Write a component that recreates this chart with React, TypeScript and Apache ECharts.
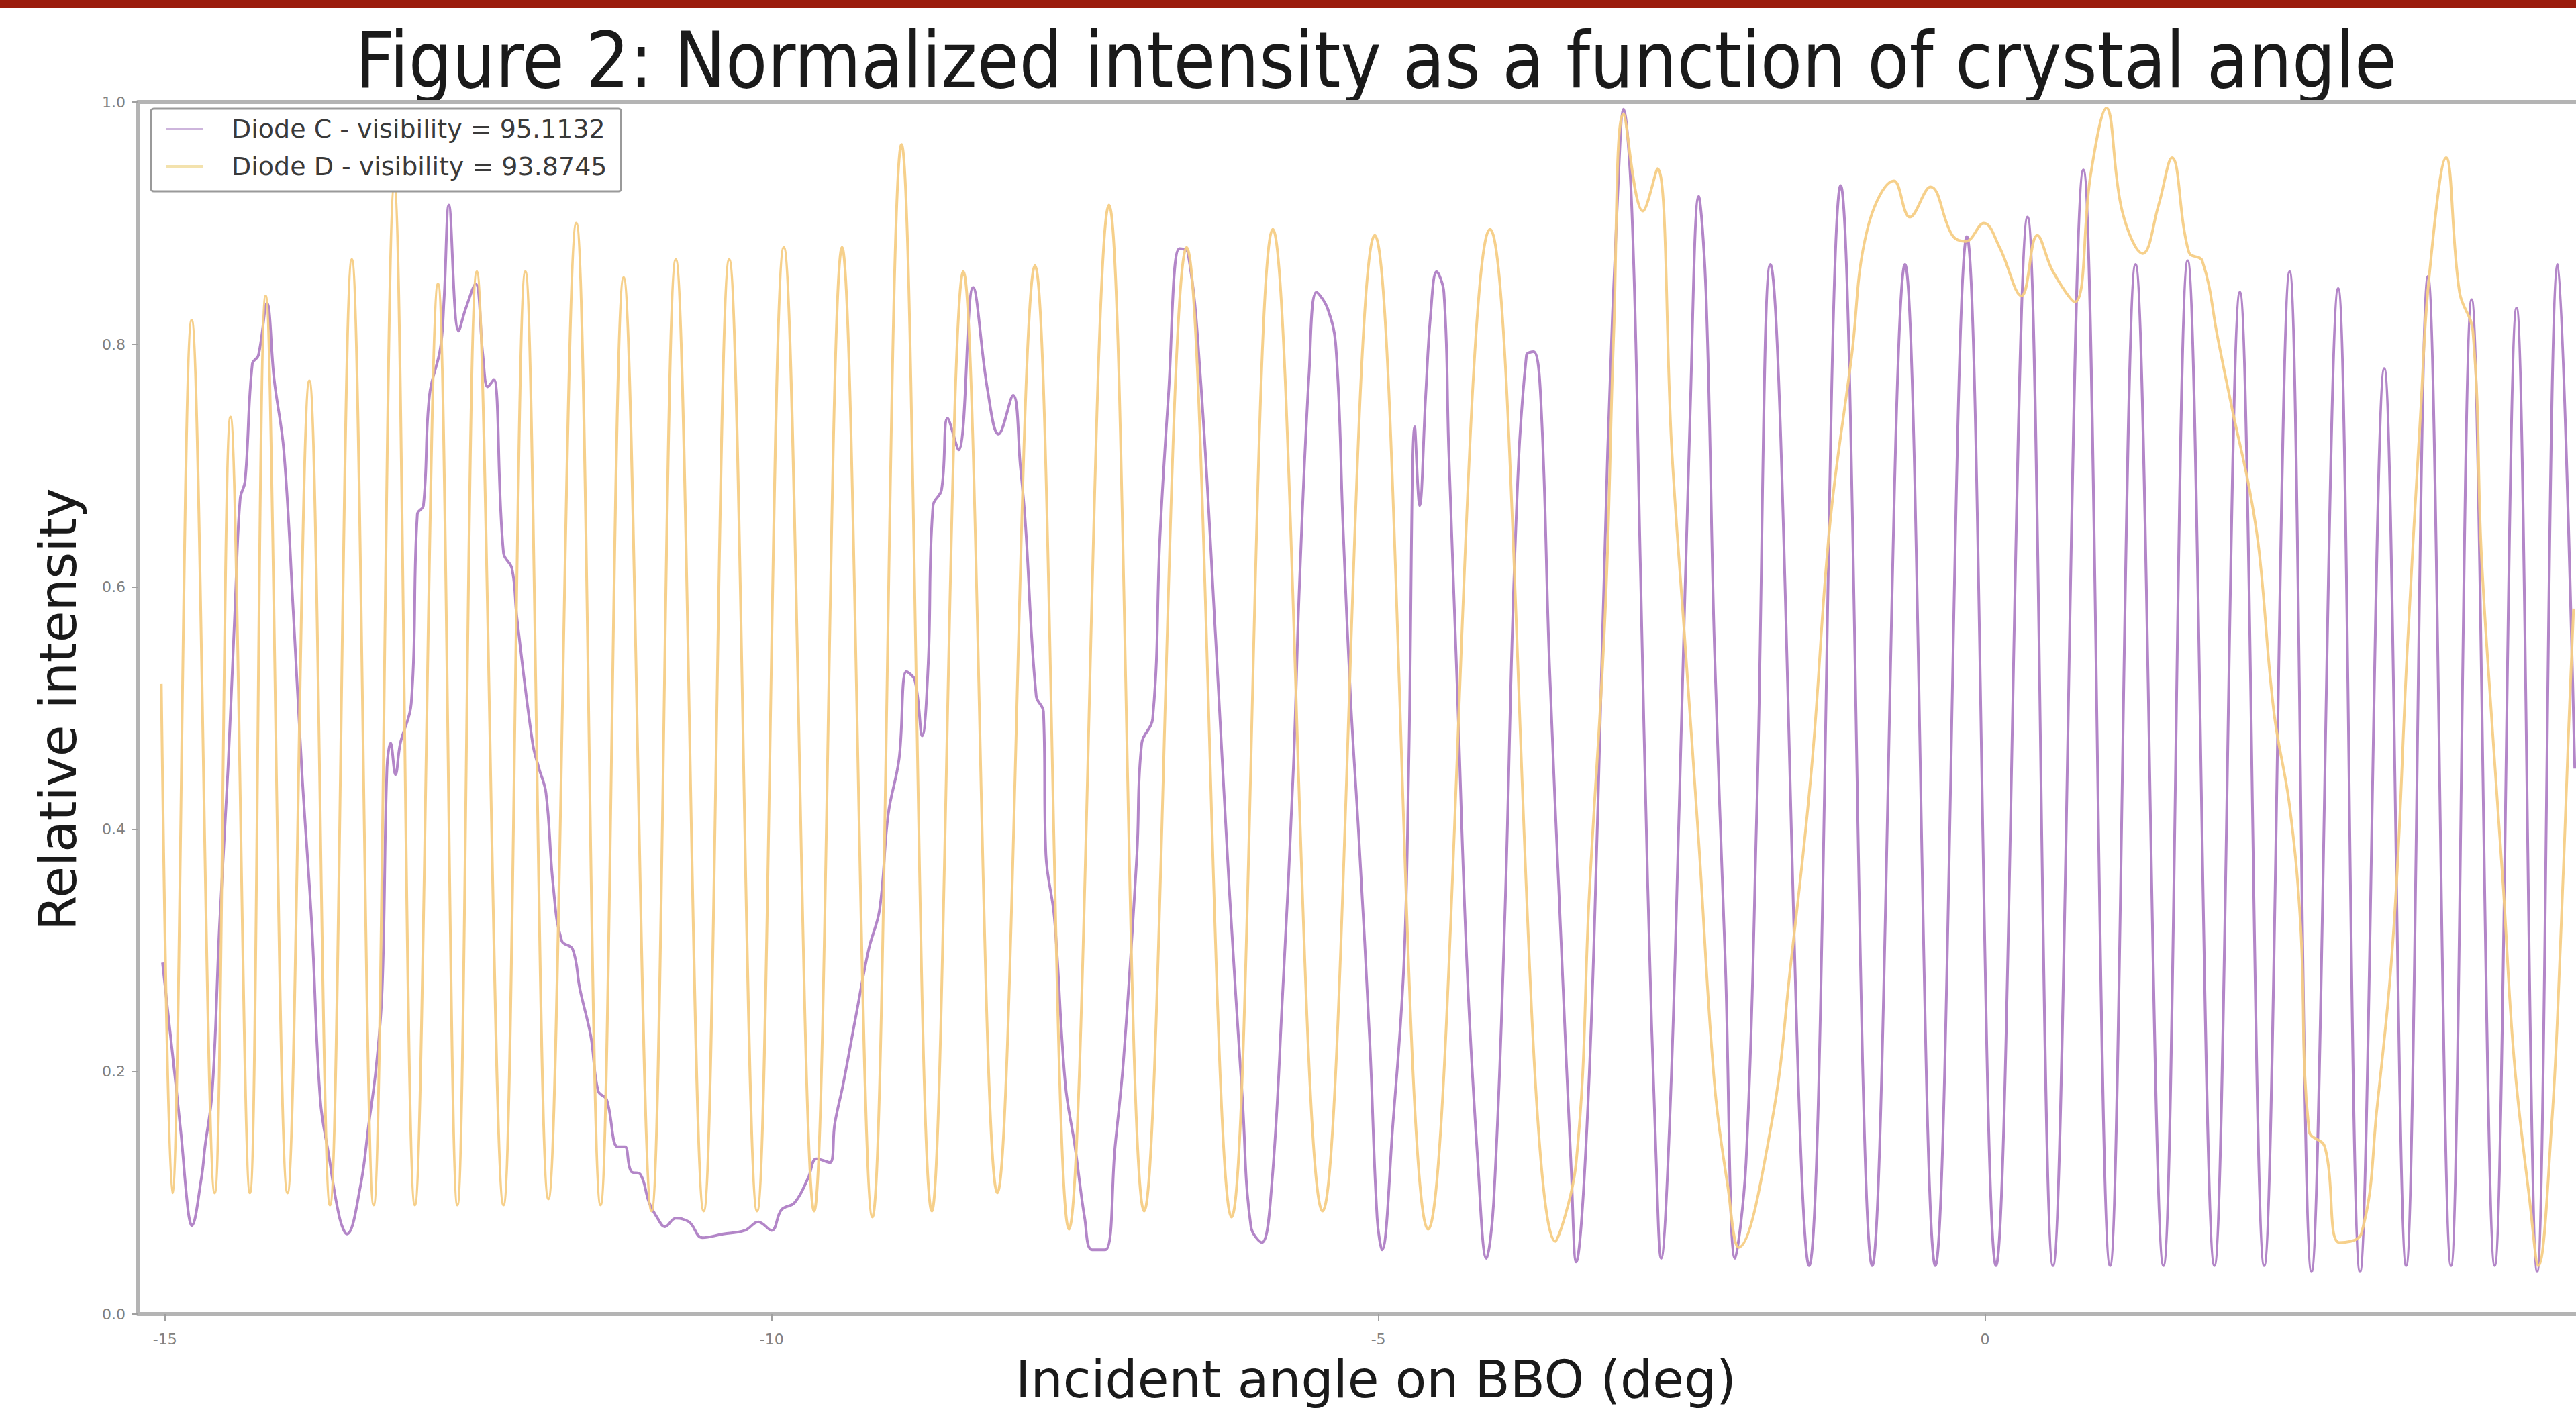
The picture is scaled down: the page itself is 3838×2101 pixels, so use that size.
import React, { useEffect, useRef } from 'react';
import * as echarts from 'echarts';

const TITLE = 'Figure 2: Normalized intensity as a function of crystal angle';
const X_NAME = 'Incident angle on BBO (deg)';
const Y_NAME = 'Relative intensity';
const C_NAME = 'Diode C - visibility = 95.1132';
const D_NAME = 'Diode D - visibility = 93.8745';

const X_MIN = -15.22;
const X_MAX = 4.87;
const Y_MIN = 0;
const Y_MAX = 1;
const Y_STEP = 0.2;

// Diode C (purple): [angle (deg), relative intensity]
const DIODE_C: [number, number][] = [
  [-15.02, 0.29], [-14.87, 0.151], [-14.81, 0.086], [-14.78, 0.073], [-14.7, 0.112], [-14.67, 0.138],
  [-14.61, 0.184], [-14.55, 0.321], [-14.48, 0.451], [-14.42, 0.589], [-14.38, 0.673], [-14.34, 0.687],
  [-14.28, 0.784], [-14.23, 0.791], [-14.16, 0.834], [-14.1, 0.771], [-14.02, 0.712], [-13.94, 0.575],
  [-13.87, 0.445], [-13.79, 0.321], [-13.72, 0.177], [-13.65, 0.131], [-13.56, 0.079], [-13.5, 0.066],
  [-13.39, 0.105], [-13.32, 0.157], [-13.26, 0.203], [-13.21, 0.268], [-13.17, 0.451], [-13.14, 0.471],
  [-13.1, 0.445], [-13.06, 0.471], [-12.97, 0.504], [-12.92, 0.66], [-12.87, 0.667], [-12.82, 0.758],
  [-12.73, 0.797], [-12.7, 0.837], [-12.66, 0.915], [-12.58, 0.811], [-12.52, 0.83], [-12.44, 0.85],
  [-12.38, 0.791], [-12.34, 0.765], [-12.29, 0.771], [-12.21, 0.628], [-12.14, 0.615], [-12.1, 0.575],
  [-11.97, 0.471], [-11.92, 0.451], [-11.86, 0.43], [-11.8, 0.353], [-11.73, 0.308], [-11.64, 0.301],
  [-11.58, 0.268], [-11.49, 0.229], [-11.43, 0.184], [-11.36, 0.177], [-11.27, 0.138], [-11.21, 0.138],
  [-11.16, 0.118], [-11.08, 0.115], [-11.01, 0.092], [-10.94, 0.079], [-10.88, 0.072], [-10.79, 0.079],
  [-10.68, 0.076], [-10.57, 0.063], [-10.4, 0.066], [-10.22, 0.069], [-10.11, 0.076], [-10.0, 0.069],
  [-9.92, 0.086], [-9.81, 0.092], [-9.7, 0.112], [-9.63, 0.128], [-9.52, 0.125], [-9.48, 0.157],
  [-9.41, 0.19], [-9.3, 0.249], [-9.2, 0.301], [-9.11, 0.334], [-9.04, 0.412], [-8.95, 0.458],
  [-8.89, 0.53], [-8.82, 0.523], [-8.76, 0.477], [-8.71, 0.536], [-8.67, 0.667], [-8.6, 0.68],
  [-8.55, 0.739], [-8.46, 0.713], [-8.34, 0.847], [-8.22, 0.762], [-8.13, 0.726], [-8.01, 0.758],
  [-7.95, 0.699], [-7.91, 0.654], [-7.82, 0.51], [-7.76, 0.497], [-7.74, 0.379], [-7.67, 0.327],
  [-7.58, 0.19], [-7.5, 0.138], [-7.42, 0.079], [-7.36, 0.053], [-7.25, 0.053], [-7.17, 0.138],
  [-7.1, 0.21], [-6.99, 0.379], [-6.95, 0.471], [-6.86, 0.491], [-6.8, 0.641], [-6.73, 0.758],
  [-6.64, 0.879], [-6.57, 0.876], [-6.47, 0.778], [-6.34, 0.556], [-6.23, 0.353], [-6.12, 0.177],
  [-6.05, 0.072], [-5.96, 0.059], [-5.88, 0.105], [-5.79, 0.262], [-5.7, 0.451], [-5.65, 0.602],
  [-5.57, 0.778], [-5.51, 0.843], [-5.42, 0.83], [-5.35, 0.798], [-5.29, 0.647], [-5.23, 0.51],
  [-5.16, 0.392], [-5.07, 0.223], [-5.01, 0.079], [-4.97, 0.053], [-4.88, 0.157], [-4.79, 0.288],
  [-4.75, 0.451], [-4.7, 0.732], [-4.66, 0.667], [-4.61, 0.758], [-4.57, 0.824], [-4.52, 0.86],
  [-4.46, 0.843], [-4.42, 0.713], [-4.35, 0.517], [-4.27, 0.288], [-4.18, 0.125], [-4.11, 0.046],
  [-4.05, 0.092], [-3.96, 0.321], [-3.87, 0.641], [-3.78, 0.791], [-3.72, 0.794], [-3.66, 0.752],
  [-3.59, 0.536], [-3.5, 0.321], [-3.41, 0.118], [-3.37, 0.043], [-3.28, 0.157], [-3.19, 0.42],
  [-3.11, 0.713], [-3.02, 0.941], [-2.98, 0.994], [-2.91, 0.909], [-2.84, 0.615], [-2.78, 0.353],
  [-2.71, 0.125], [-2.67, 0.046], [-2.6, 0.157], [-2.52, 0.42], [-2.43, 0.745], [-2.36, 0.922],
  [-2.3, 0.843], [-2.23, 0.549], [-2.14, 0.288], [-2.06, 0.046], [-1.97, 0.125], [-1.88, 0.42],
  [-1.77, 0.866], [-1.45, 0.04], [-1.19, 0.931], [-0.93, 0.04], [-0.66, 0.866], [-0.41, 0.04],
  [-0.15, 0.889], [0.09, 0.04], [0.35, 0.905], [0.56, 0.04], [0.81, 0.944], [1.03, 0.04],
  [1.24, 0.866], [1.47, 0.04], [1.67, 0.869], [1.89, 0.04], [2.1, 0.843], [2.3, 0.04],
  [2.51, 0.86], [2.69, 0.035], [2.91, 0.846], [3.09, 0.035], [3.29, 0.78], [3.47, 0.04],
  [3.65, 0.856], [3.84, 0.04], [4.01, 0.837], [4.2, 0.04], [4.38, 0.83], [4.55, 0.035],
  [4.72, 0.866], [4.86, 0.45],
];

// Diode D (orange): [angle (deg), relative intensity]
const DIODE_D: [number, number][] = [
  [-15.03, 0.52], [-14.94, 0.1], [-14.78, 0.82], [-14.59, 0.1], [-14.46, 0.74], [-14.3, 0.1],
  [-14.17, 0.84], [-13.99, 0.1], [-13.81, 0.77], [-13.64, 0.09], [-13.46, 0.87], [-13.28, 0.09],
  [-13.11, 0.93], [-12.94, 0.09], [-12.75, 0.85], [-12.59, 0.09], [-12.43, 0.86], [-12.21, 0.09],
  [-12.03, 0.86], [-11.84, 0.095], [-11.61, 0.9], [-11.41, 0.09], [-11.22, 0.855], [-10.99, 0.085],
  [-10.79, 0.87], [-10.56, 0.085], [-10.35, 0.87], [-10.12, 0.085], [-9.9, 0.88], [-9.65, 0.085],
  [-9.42, 0.88], [-9.17, 0.08], [-8.93, 0.965], [-8.68, 0.085], [-8.42, 0.86], [-8.14, 0.1],
  [-7.83, 0.865], [-7.55, 0.07], [-7.22, 0.915], [-6.93, 0.085], [-6.58, 0.88], [-6.21, 0.08],
  [-5.87, 0.895], [-5.46, 0.085], [-5.03, 0.89], [-4.59, 0.07], [-4.08, 0.895], [-3.54, 0.06],
  [-3.37, 0.125], [-3.26, 0.35], [-3.13, 0.58], [-3.06, 0.81], [-2.98, 0.99], [-2.82, 0.91],
  [-2.7, 0.945], [-2.58, 0.71], [-2.47, 0.55], [-2.36, 0.39], [-2.23, 0.19], [-2.12, 0.105],
  [-2.03, 0.055], [-1.76, 0.157], [-1.6, 0.29], [-1.43, 0.45], [-1.28, 0.65], [-1.1, 0.79],
  [-0.97, 0.895], [-0.75, 0.935], [-0.62, 0.905], [-0.45, 0.93], [-0.27, 0.89], [-0.16, 0.885],
  [-0.01, 0.9], [0.12, 0.88], [0.3, 0.84], [0.43, 0.89], [0.56, 0.86], [0.74, 0.835],
  [0.87, 0.94], [1.0, 0.995], [1.13, 0.91], [1.3, 0.875], [1.43, 0.915], [1.54, 0.954],
  [1.68, 0.876], [1.79, 0.869], [1.92, 0.804], [2.04, 0.745], [2.18, 0.68], [2.26, 0.628],
  [2.38, 0.497], [2.51, 0.419], [2.6, 0.321], [2.67, 0.151], [2.8, 0.138], [2.92, 0.059],
  [3.1, 0.066], [3.23, 0.17], [3.37, 0.321], [3.48, 0.549], [3.59, 0.745], [3.66, 0.856],
  [3.8, 0.954], [3.91, 0.843], [4.02, 0.811], [4.09, 0.628], [4.18, 0.484], [4.27, 0.353],
  [4.36, 0.21], [4.49, 0.092], [4.56, 0.04], [4.67, 0.157], [4.74, 0.3], [4.81, 0.484],
  [4.85, 0.582],
];

const FONT = 'DejaVu Sans';
const FRAME = '#b4b4b4';

export default function App() {
  const ref = useRef<HTMLDivElement>(null);

  useEffect(() => {
    if (!ref.current) return;
    const chart = echarts.init(ref.current, null, { renderer: 'svg' });
    const option: any = {
      animation: false,
      backgroundColor: '#ffffff',
      grid: { left: 206, top: 152, right: 0, bottom: 143, containLabel: false },
      legend: {
        orient: 'vertical',
        left: 225,
        top: 162,
        padding: [10, 21, 17, 23],
        itemGap: 16,
        itemWidth: 54,
        itemHeight: 4,
        icon: 'rect',
        backgroundColor: '#ffffff',
        borderColor: '#9a9a9a',
        borderWidth: 3,
        borderRadius: 4,
        textStyle: { fontFamily: FONT, fontSize: 38, color: '#3a3a3a', lineHeight: 40, padding: [0, 0, 0, 38] },
        data: [
          { name: C_NAME, itemStyle: { color: '#cdb5dc' } },
          { name: D_NAME, itemStyle: { color: '#f3e2ad' } },
        ],
      },
      xAxis: [
        {
          type: 'value',
          min: X_MIN,
          max: X_MAX,
          splitNumber: 4,
          axisLine: { show: true, onZero: false, lineStyle: { color: FRAME, width: 6 } },
          axisTick: { show: true, length: 10, lineStyle: { color: '#a0a0a0', width: 2 } },
          axisLabel: {
            showMinLabel: false,
            showMaxLabel: false,
            fontFamily: FONT,
            fontSize: 22,
            color: '#808080',
            margin: 26,
            formatter: (v: number) => String(Math.round(v)),
          },
          splitLine: { show: false },
        },
        {
          type: 'value',
          position: 'top',
          min: X_MIN,
          max: X_MAX,
          axisLine: { show: true, onZero: false, lineStyle: { color: FRAME, width: 6 } },
          axisTick: { show: false },
          axisLabel: { show: false },
          splitLine: { show: false },
        },
      ],
      yAxis: {
        type: 'value',
        min: Y_MIN,
        max: Y_MAX,
        interval: Y_STEP,
        axisLine: { show: true, onZero: false, lineStyle: { color: FRAME, width: 6 } },
        axisTick: { show: true, length: 10, lineStyle: { color: '#a0a0a0', width: 2 } },
        axisLabel: {
          fontFamily: FONT,
          fontSize: 22,
          color: '#808080',
          margin: 19,
          formatter: (v: number) => v.toFixed(1),
        },
        splitLine: { show: false },
      },
      series: [
        {
          name: C_NAME,
          type: 'line',
          xAxisIndex: 0,
          data: DIODE_C,
          showSymbol: false,
          symbol: 'none',
          smooth: 0.4,
          lineStyle: { color: '#b386c8', width: 4 },
          itemStyle: { color: '#cdb5dc' },
          z: 2,
        },
        {
          name: D_NAME,
          type: 'line',
          xAxisIndex: 0,
          data: DIODE_D,
          showSymbol: false,
          symbol: 'none',
          smooth: 0.4,
          lineStyle: { color: '#f6cd85', width: 4, opacity: 0.95 },
          itemStyle: { color: '#f3e2ad' },
          z: 3,
        },
      ],
      graphic: [
        {
          type: 'rect',
          shape: { x: 0, y: 0, width: 3838, height: 12 },
          style: { fill: '#9b1c0d' },
          silent: true,
        },
        {
          type: 'text',
          x: 2050,
          y: 90,
          scaleY: 1.13,
          style: {
            text: TITLE,
            fontFamily: FONT,
            fontSize: 102,
            fill: '#1a1a1a',
            align: 'center',
            verticalAlign: 'middle',
            textAlign: 'center',
            textVerticalAlign: 'middle',
          },
        },
        {
          type: 'text',
          x: 2050,
          y: 2055,
          style: {
            text: X_NAME,
            fontFamily: FONT,
            fontSize: 76,
            fill: '#1a1a1a',
            align: 'center',
            verticalAlign: 'middle',
            textAlign: 'center',
            textVerticalAlign: 'middle',
          },
        },
        {
          type: 'text',
          x: 86,
          y: 1057,
          rotation: Math.PI / 2,
          style: {
            text: Y_NAME,
            fontFamily: FONT,
            fontSize: 76,
            fill: '#1a1a1a',
            align: 'center',
            verticalAlign: 'middle',
            textAlign: 'center',
            textVerticalAlign: 'middle',
          },
        },
      ],
    };
    chart.setOption(option);
    return () => chart.dispose();
  }, []);

  return (
    <div
      ref={ref}
      style={{ position: 'absolute', left: 0, top: 0, width: 3838, height: 2101, background: '#ffffff' }}
    />
  );
}
